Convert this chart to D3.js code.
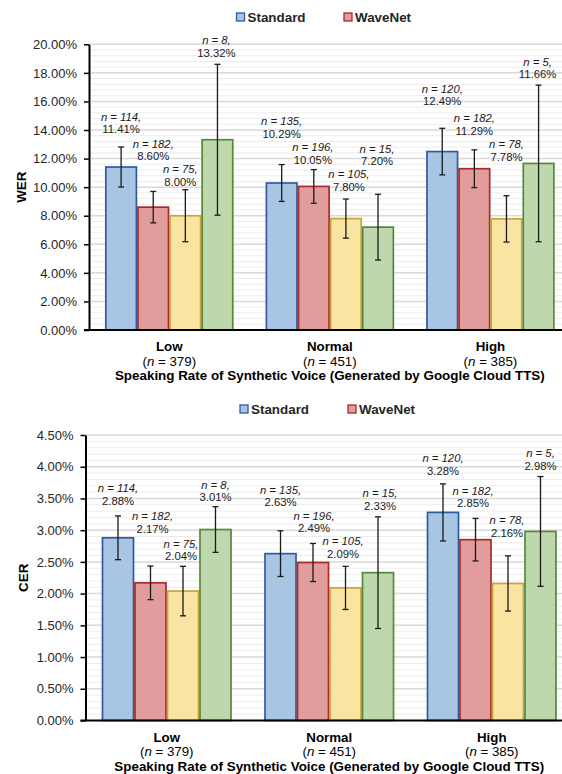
<!DOCTYPE html>
<html>
<head>
<meta charset="utf-8">
<script src="https://cdn.jsdelivr.net/npm/d3@7"></script>
<style>
  body { margin: 0; background: #fff; }
  svg { display: block; font-family: "Liberation Sans", Arial, sans-serif; }
</style>
</head>
<body>
<svg id="chart" width="562" height="774"></svg>
<script>
// ---- data ----
const categories = ["Low", "Normal", "High"];
const categoryCounts = [379, 451, 385];
const seriesNames = ["Standard", "WaveNet", "Series 3", "Series 4"];
const legendNames = ["Standard", "WaveNet"];

// sample size per bar: [category][series]
const sampleSizes = [
  [114, 182, 75, 8],
  [135, 196, 105, 15],
  [120, 182, 78, 5]
];

// word error rate (%) and its error-bar half width
const werValues = [
  [11.41, 8.60, 8.00, 13.32],
  [10.29, 10.05, 7.80, 7.20],
  [12.49, 11.29, 7.78, 11.66]
];
const werErrors = [
  [1.40, 1.10, 1.82, 5.28],
  [1.29, 1.18, 1.37, 2.30],
  [1.63, 1.32, 1.62, 5.48]
];

// character error rate (%) and its error-bar half width
const cerValues = [
  [2.88, 2.17, 2.04, 3.01],
  [2.63, 2.49, 2.09, 2.33],
  [3.28, 2.85, 2.16, 2.98]
];
const cerErrors = [
  [0.345, 0.265, 0.39, 0.36],
  [0.36, 0.30, 0.34, 0.88],
  [0.45, 0.335, 0.435, 0.865]
];

const werTicks = [0, 2, 4, 6, 8, 10, 12, 14, 16, 18, 20];
const cerTicks = [0, 0.5, 1, 1.5, 2, 2.5, 3, 3.5, 4, 4.5];
const xAxisTitle = "Speaking Rate of Synthetic Voice (Generated by Google Cloud TTS)";

// ---- styling ----
const fills   = ["#a8c5e4", "#e19d9c", "#f9e4a2", "#bed7ad"];
const strokes = ["#2e5c9f", "#a82a2a", "#c9a43c", "#57883a"];

// label placement tweaks in px: [dx, dy of value line from error-bar top]
const werLabelNudge = [
  [0, -17.7], [0, -35], [-5, -8], [-1, -11.3],
  [0, -31], [-1, -10], [3, -12.3], [-1, -33],
  [0, -27], [0, -19], [0, -39], [-1, -10.7]
];
const cerLabelNudge = [
  [0, -15], [2, -37.4], [-2, -10], [0, -9.3],
  [0, -28.3], [1, -15], [-2.5, -12.7], [2, -10.7],
  [0, -13.3], [-2.5, -15], [-1, -23.3], [0, -10.7]
];

const svg = d3.select("#chart");
svg.append("rect").attr("width", 562).attr("height", 774).attr("fill", "#fff");

function drawPanel(cfg) {
  const g = svg.append("g");
  const x0 = d3.scaleBand().domain(categories)
    .range([cfg.left, cfg.right]).paddingInner(0.2).paddingOuter(0.1);
  const x1 = d3.scaleBand().domain(d3.range(seriesNames.length))
    .range([0, x0.bandwidth()]);
  const y = d3.scaleLinear().domain([0, cfg.ticks[cfg.ticks.length - 1]])
    .range([cfg.bottom, cfg.top]);

  // minor gridlines: five subdivisions per major interval
  const minor = [];
  for (let i = 0; i < cfg.ticks.length - 1; i++) {
    const a = cfg.ticks[i], b = cfg.ticks[i + 1];
    for (let k = 1; k < 5; k++) minor.push(a + (b - a) * k / 5);
  }
  g.append("g").selectAll("line").data(minor).join("line")
    .attr("x1", cfg.left).attr("x2", cfg.right)
    .attr("y1", d => y(d)).attr("y2", d => y(d))
    .attr("stroke", "#ececec").attr("stroke-width", 1);
  g.append("g").selectAll("line").data(cfg.ticks.slice(1)).join("line")
    .attr("x1", cfg.left).attr("x2", cfg.right)
    .attr("y1", d => y(d)).attr("y2", d => y(d))
    .attr("stroke", "#d9d9d9").attr("stroke-width", 1.5);

  // flatten to one record per bar
  const bars = [];
  categories.forEach((c, i) => {
    seriesNames.forEach((s, j) => {
      bars.push({
        cat: c, s: j, v: cfg.values[i][j], e: cfg.errors[i][j],
        n: sampleSizes[i][j], nudge: cfg.nudge[i * seriesNames.length + j]
      });
    });
  });
  const cx = d => x0(d.cat) + x1(d.s) + x1.bandwidth() / 2;

  g.append("g").selectAll("rect").data(bars).join("rect")
    .attr("x", d => x0(d.cat) + x1(d.s) + 0.75)
    .attr("width", x1.bandwidth() - 1.5)
    .attr("y", d => y(d.v))
    .attr("height", d => y(0) - y(d.v))
    .attr("fill", d => fills[d.s])
    .attr("stroke", d => strokes[d.s])
    .attr("stroke-width", 1.7);

  // error bars
  const eb = g.append("g").attr("stroke", "#1a1a1a").attr("stroke-width", 1.3);
  eb.selectAll(".stem").data(bars).join("line").attr("class", "stem")
    .attr("x1", cx).attr("x2", cx)
    .attr("y1", d => y(d.v + d.e)).attr("y2", d => y(d.v - d.e));
  eb.selectAll(".capt").data(bars).join("line").attr("class", "capt")
    .attr("x1", d => cx(d) - 3).attr("x2", d => cx(d) + 3)
    .attr("y1", d => y(d.v + d.e)).attr("y2", d => y(d.v + d.e));
  eb.selectAll(".capb").data(bars).join("line").attr("class", "capb")
    .attr("x1", d => cx(d) - 3).attr("x2", d => cx(d) + 3)
    .attr("y1", d => y(d.v - d.e)).attr("y2", d => y(d.v - d.e));

  // value labels
  const lbl = g.append("g").attr("font-size", 11.3).attr("fill", "#1a1a1a")
    .attr("text-anchor", "middle");
  lbl.selectAll(".ln").data(bars).join("text").attr("class", "ln")
    .attr("x", d => cx(d) + d.nudge[0])
    .attr("y", d => y(d.v + d.e) + d.nudge[1] - 12.7)
    .attr("dy", "0.35em").attr("font-style", "italic")
    .text(d => `n = ${d.n},`);
  lbl.selectAll(".lv").data(bars).join("text").attr("class", "lv")
    .attr("x", d => cx(d) + d.nudge[0])
    .attr("y", d => y(d.v + d.e) + d.nudge[1])
    .attr("dy", "0.35em")
    .text(d => d3.format(".2f")(d.v) + "%");

  // y axis
  const ya = g.append("g").attr("transform", `translate(${cfg.left},0)`)
    .call(d3.axisLeft(y).tickValues(cfg.ticks)
      .tickFormat(d => d3.format(".2f")(d) + "%")
      .tickSize(5).tickSizeOuter(0).tickPadding(7));
  ya.select(".domain").attr("stroke", "#000").attr("stroke-width", 2);
  ya.selectAll(".tick line").attr("stroke", "#000").attr("stroke-width", 1.5);
  ya.selectAll(".tick text").attr("font-size", 13).attr("fill", "#262626")
    .attr("font-family", "\"Liberation Sans\", Arial, sans-serif");

  // x axis baseline
  g.append("line").attr("x1", cfg.left - 5).attr("x2", cfg.right)
    .attr("y1", y(0)).attr("y2", y(0))
    .attr("stroke", "#000").attr("stroke-width", 2);

  // category labels
  const cl = g.append("g").attr("text-anchor", "middle").attr("fill", "#000")
    .attr("font-size", 13.3);
  cl.selectAll(".cn").data(categories).join("text").attr("class", "cn")
    .attr("x", d => x0(d) + x0.bandwidth() / 2)
    .attr("y", y(0) + 16.5).attr("dy", "0.35em")
    .attr("font-weight", "bold").text(d => d);
  const cc = cl.selectAll(".cc").data(categories).join("text").attr("class", "cc")
    .attr("x", d => x0(d) + x0.bandwidth() / 2)
    .attr("y", y(0) + 31).attr("dy", "0.35em");
  cc.append("tspan").text("(");
  cc.append("tspan").attr("font-style", "italic").text("n");
  cc.append("tspan").text((d, i) => ` = ${categoryCounts[i]})`);

  // axis titles
  g.append("text").attr("x", (cfg.left + cfg.right) / 2).attr("y", y(0) + 45.5)
    .attr("dy", "0.35em").attr("text-anchor", "middle")
    .attr("font-weight", "bold").attr("font-size", 13.4).text(xAxisTitle);
  g.append("text")
    .attr("transform", `translate(${cfg.titleX},${(cfg.top + cfg.bottom) / 2}) rotate(-90)`)
    .attr("dy", "0.35em").attr("text-anchor", "middle")
    .attr("font-weight", "bold").attr("font-size", 13.4).text(cfg.yTitle);

  // legend
  const lg = g.append("g");
  legendNames.forEach((name, i) => {
    lg.append("rect").attr("x", cfg.legendX[i]).attr("y", cfg.legendY - 4)
      .attr("width", 8).attr("height", 8)
      .attr("fill", fills[i]).attr("stroke", strokes[i]).attr("stroke-width", 1.3);
    lg.append("text").attr("x", cfg.legendX[i] + 11).attr("y", cfg.legendY)
      .attr("dy", "0.35em").attr("font-weight", "bold").attr("font-size", 13.4)
      .attr("fill", "#262626").text(name);
  });
}

drawPanel({
  left: 89, right: 570.7, top: 44.3, bottom: 330,
  ticks: werTicks, values: werValues, errors: werErrors, nudge: werLabelNudge,
  yTitle: "WER", titleX: 21, legendX: [236.5, 344], legendY: 17
});
drawPanel({
  left: 85.5, right: 573, top: 435, bottom: 720.5,
  ticks: cerTicks, values: cerValues, errors: cerErrors, nudge: cerLabelNudge,
  yTitle: "CER", titleX: 23, legendX: [240, 348], legendY: 409
});
</script>
</body>
</html>
